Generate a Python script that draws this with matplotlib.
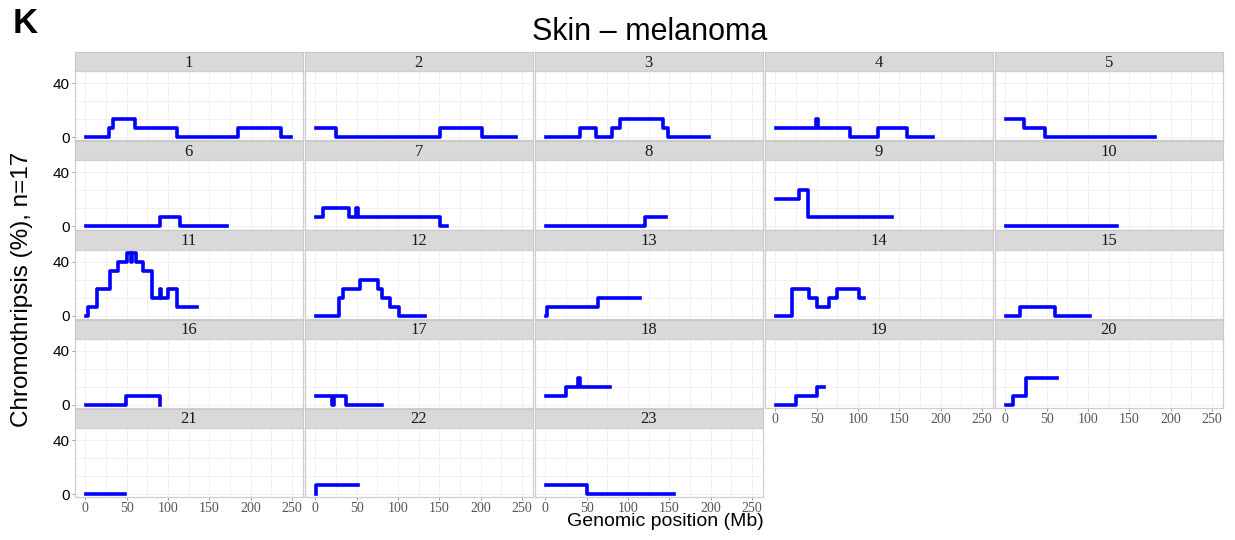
import matplotlib
matplotlib.use("agg")
import matplotlib.pyplot as plt

# figure size in pixels (dpi 100)
W, H = 1235, 540

chrom_labels = [str(i) for i in range(1, 24)]
chrom_ends = [249, 243, 198, 191, 181, 171, 159, 146, 141, 135, 135, 133,
              115, 107, 102, 90.4, 81, 78, 59, 63, 48, 51, 155]

# step segments: start position (Mb) and chromothripsis level (%) for each chromosome
seg_starts = [
    [0.8, 29, 34, 60, 110.6, 184.5, 237],
    [0.8, 25, 151, 202],
    [0.8, 42, 61, 80, 90, 142, 148],
    [0.8, 49.5, 51, 90, 124, 159],
    [0.8, 23, 48],
    [0.8, 90, 114],
    [0.8, 9.7, 41, 49.5, 51, 151],
    [0.8, 121],
    [0.8, 28.4, 39],
    [0.8],
    [0.8, 3.6, 13.8, 30, 40, 50, 55, 57, 61, 69.5, 80, 90, 91.5, 100.5, 110.6],
    [0.8, 29, 34, 54, 76, 80, 90.4, 101],
    [0.8, 2, 63.6],
    [0.8, 19.8, 40.8, 50.9, 65, 75, 101.3],
    [0.8, 18, 60],
    [0.8, 49, 90],
    [0.8, 20.5, 22.5, 37],
    [0.8, 24.7, 40, 41.5],
    [0.8, 24.7, 50],
    [0.8, 9.7, 24.7],
    [0.3],
    [0.5, 1],
    [0.6, 50.5],
]
seg_levels = [
    [0, 6.7, 13.3, 6.7, 0, 6.7, 0],
    [6.7, 0, 6.7, 0],
    [0, 6.7, 0, 6.7, 13.3, 6.7, 0],
    [6.7, 13.3, 6.7, 0, 6.7, 0],
    [13.3, 6.7, 0],
    [0, 6.7, 0],
    [6.7, 13.3, 6.7, 13.3, 6.7, 0],
    [0, 6.7],
    [20, 26.7, 6.7],
    [0],
    [0, 6.7, 20, 33.3, 40, 46.7, 40, 46.7, 40, 33.3, 13.3, 20, 13.3, 20, 6.7],
    [0, 13.3, 20, 26.7, 20, 13.3, 6.7, 0],
    [0, 6.7, 13.3],
    [0, 20, 13.3, 6.7, 13.3, 20, 13.3],
    [0, 6.7, 0],
    [0, 6.7, 0],
    [6.7, 0, 6.7, 0],
    [6.7, 13.3, 20, 13.3],
    [0, 6.7, 13.3],
    [0, 6.7, 20],
    [0],
    [0, 6.7],
    [6.7, 0],
]

x_ticks = [0, 50, 100, 150, 200, 250]
x_grid = [0, 25, 50, 75, 100, 125, 150, 175, 200, 225, 250]
y_ticks = [0, 40]
y_grid = [0, 13.33, 26.67, 40]

SANS = "Liberation Sans"
SERIF = "Liberation Serif"


def fig_rect(x0, y0, x1, y1):
    # pixel box -> figure fraction [left, bottom, width, height]
    return [x0 / W, 1 - y1 / H, (x1 - x0) / W, (y1 - y0) / H]


fig = plt.figure(figsize=(W / 100, H / 100), dpi=100)

ncol = 5
n = len(chrom_labels)
last_row = {}
for i in range(n):
    last_row[i % ncol] = i // ncol

for i in range(n):
    r, c = i // ncol, i % ncol
    left = 75 + 230 * c
    right = left + 227.5
    strip_top = 52 + 89.2 * r
    top = 71.1 + 89.2 * r
    bottom = 140.4 + 89.2 * r

    # strip
    sax = fig.add_axes(fig_rect(left, strip_top, right, top))
    sax.set_facecolor("#d9d9d9")
    sax.set_xticks([])
    sax.set_yticks([])
    for sp in sax.spines.values():
        sp.set_color("#c8c8c8")
        sp.set_linewidth(0.8)
    sax.text(0.5, 0.45, chrom_labels[i], transform=sax.transAxes, ha="center",
             va="center", fontsize=12, family=SERIF, color="#1a1a1a")

    ax = fig.add_axes(fig_rect(left, top, right, bottom))
    ax.set_xlim(-12.5, 262.5)
    ax.set_ylim(-2.33, 49.0)
    for g in x_grid:
        ax.axvline(g, color="#efefef", lw=0.6, zorder=0)
    for g in y_grid:
        ax.axhline(g, color="#efefef", lw=0.6, zorder=0)
    for sp in ax.spines.values():
        sp.set_color("#cfcfcf")
        sp.set_linewidth(0.9)

    xs = seg_starts[i] + [chrom_ends[i]]
    ys = seg_levels[i] + [seg_levels[i][-1]]
    ax.step(xs, ys, where="post", color="#0000ff", lw=2.6, zorder=3)

    ax.set_yticks(y_ticks)
    ax.set_xticks(x_ticks)
    ax.tick_params(axis="both", length=2.5, width=0.6, color="#8c8c8c")
    if c == 0:
        ax.set_yticklabels([str(v) for v in y_ticks], fontsize=11,
                           family=SANS, color="black")
        ax.tick_params(axis="y", pad=1.5)
    else:
        ax.tick_params(axis="y", labelleft=False, length=0)
    if r == last_row[c]:
        ax.set_xticklabels([str(v) for v in x_ticks], fontsize=10,
                           family=SERIF, color="#555555")
        ax.tick_params(axis="x", pad=1)
    else:
        ax.tick_params(axis="x", labelbottom=False, length=0)

fig.text(13 / W, 1 - 33 / H, "K", fontsize=25, fontweight="bold", family=SANS,
         ha="left", va="baseline")
fig.text(650 / W, 1 - 32 / H, "Skin \u2013 melanoma", fontsize=22, family=SANS,
         ha="center", va="center")
fig.text(22 / W, 1 - 289 / H, "Chromothripsis (%), n=17", fontsize=17.5,
         family=SANS, rotation=90, ha="center", va="center")
fig.text(665 / W, 1 - 522 / H, "Genomic position (Mb)", fontsize=14,
         family=SANS, ha="center", va="center")

fig.savefig("out.png", dpi=100)
